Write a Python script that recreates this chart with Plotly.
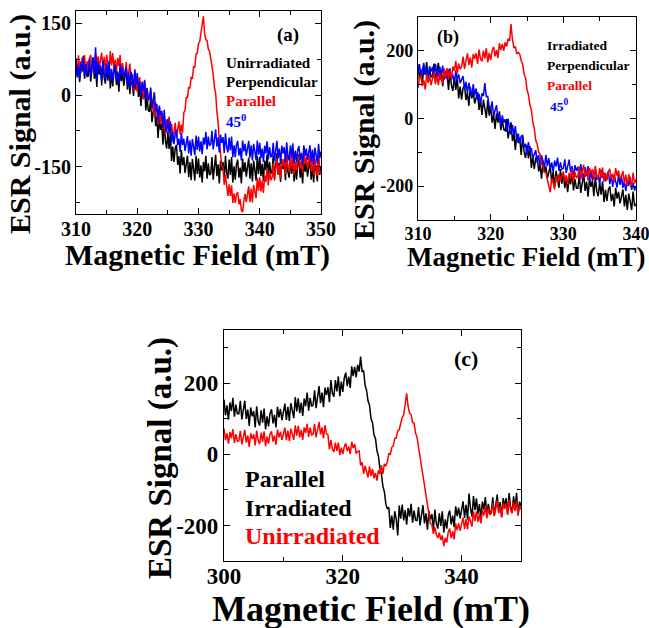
import numpy as np
import plotly.graph_objects as go

# ---------------- data ----------------
field_a = np.round(310 + 0.2 * np.arange(201), 2)   # (a) 310-350 mT
field_b = np.round(310 + 0.2 * np.arange(151), 2)   # (b) 310-340 mT
field_c = np.round(300 + 0.25 * np.arange(201), 2)  # (c) 300-350 mT

# (a) Unirradiated
unirr_perp_a = [77, 37, 63, 27, 70, 49, 82, 34, 64, 39,
                40, 75, 28, 55, 79, 34, 58, 17, 65, 43,
                60, 20, 73, 36, 24, 63, 30, 67, 14, 47,
                18, 49, 59, 21, 41, 7, 58, 29, 49, 19,
                38, 56, 11, 42, 2, 43, 21, -2, 49, 10,
                40, -4, 18, -23, 16, -8, 21, -32, -4, -32,
                -35, -5, -57, -35, -15, -65, -45, -90, -47, -73,
                -60, -104, -56, -96, -112, -77, -113, -80, -138, -108,
                -140, -111, -104, -146, -128, -164, -115, -147, -130, -163,
                -145, -127, -172, -140, -178, -134, -155, -179, -127, -165,
                -133, -173, -147, -183, -140, -160, -127, -175, -143, -167,
                -165, -130, -177, -150, -125, -170, -145, -185, -137, -158,
                -140, -180, -127, -163, -175, -135, -167, -130, -183, -149,
                -177, -145, -135, -173, -152, -185, -133, -161, -141, -171,
                -150, -131, -175, -143, -181, -137, -157, -179, -127, -165,
                -130, -170, -144, -180, -137, -157, -124, -172, -140, -164,
                -162, -127, -174, -147, -122, -167, -142, -182, -134, -155,
                -138, -178, -125, -161, -173, -133, -165, -128, -181, -147,
                -177, -145, -135, -173, -152, -185, -133, -161, -141, -171,
                -152, -133, -177, -145, -183, -139, -159, -181, -129, -167,
                -150]
unirr_par_a = [72, 41, 83, 56, 46, 79, 54, 84, 43, 71,
               50, 76, 84, 55, 71, 45, 87, 65, 81, 57,
               74, 89, 54, 80, 49, 84, 68, 51, 92, 62,
               88, 55, 74, 45, 78, 61, 84, 44, 67, 45,
               44, 69, 29, 48, 66, 27, 44, 9, 45, 26,
               7, 31, 37, 5, 20, -9, 29, 3, 15, -13,
               -1, 9, -31, -10, -46, -16, -37, -61, -26, -61,
               -37, -71, -53, -83, -51, -69, -45, -85, -60, -82,
               -78, -58, -89, -72, -55, -82, -62, -79, -37, -32,
               -4, -6, 16, 14, 38, 34, 60, 58, 86, 88,
               108, 112, 130, 145, 165, 128, 116, 114, 96, 92,
               78, 56, 44, 16, 4, -34, -56, -98, -120, -148,
               -150, -188, -167, -197, -211, -187, -211, -189, -226, -206,
               -226, -208, -203, -229, -218, -241, -245, -222, -207, -224,
               -208, -191, -224, -196, -225, -188, -202, -216, -173, -200,
               -172, -202, -179, -205, -168, -182, -154, -189, -160, -178,
               -173, -143, -179, -155, -133, -167, -145, -175, -135, -149,
               -133, -165, -123, -151, -161, -129, -155, -125, -167, -140,
               -158, -132, -124, -154, -138, -164, -122, -145, -129, -153,
               -138, -124, -160, -135, -167, -133, -151, -170, -131, -163,
               -160]
unirr_45_a = [73, 41, 61, 33, 67, 51, 77, 39, 65, 45,
              47, 75, 37, 59, 79, 43, 100, 31, 69, 53,
              62, 30, 72, 44, 34, 66, 40, 70, 28, 55,
              29, 55, 63, 33, 49, 23, 65, 42, 58, 34,
              44, 58, 22, 47, 15, 49, 32, 14, 54, 23,
              46, 11, 28, -3, 28, 9, 32, -9, 14, -8,
              -8, 16, -27, -9, 6, -34, -19, -55, -22, -42,
              -33, -69, -31, -64, -78, -50, -80, -55, -101, -78,
              -103, -79, -73, -105, -91, -119, -79, -105, -91, -117,
              -101, -86, -122, -95, -127, -92, -108, -126, -85, -115,
              -87, -118, -97, -124, -89, -104, -77, -114, -87, -106,
              -103, -75, -114, -92, -72, -108, -89, -120, -83, -100,
              -88, -121, -80, -109, -120, -89, -116, -87, -130, -105,
              -130, -104, -96, -127, -111, -137, -95, -118, -102, -127,
              -111, -96, -131, -105, -137, -102, -118, -136, -95, -125,
              -100, -132, -112, -140, -106, -122, -97, -135, -109, -129,
              -128, -100, -138, -116, -96, -132, -112, -144, -106, -122,
              -109, -141, -99, -127, -137, -105, -131, -101, -143, -116,
              -141, -115, -107, -137, -121, -147, -105, -128, -112, -136,
              -120, -105, -140, -114, -145, -110, -126, -143, -102, -132,
              -118]

# (b) Irradiated
irr_perp_b = [159, 115, 144, 104, 152, 129, 166, 113, 148, 122,
              124, 162, 109, 138, 164, 113, 140, 95, 147, 123,
              132, 84, 140, 97, 81, 122, 84, 122, 59, 94,
              56, 89, 98, 54, 75, 37, 92, 59, 79, 44,
              61, 77, 25, 56, 10, 55, 29, 1, 54, 8,
              34, -13, 13, -31, 14, -13, 21, -35, -4, -33,
              -36, -2, -59, -34, -12, -67, -44, -93, -45, -73,
              -58, -108, -54, -99, -117, -78, -118, -82, -146, -113,
              -149, -118, -111, -157, -138, -178, -125, -160, -142, -178,
              -159, -141, -191, -158, -202, -155, -179, -205, -150, -193,
              -161, -206, -178, -218, -172, -195, -158, -213, -179, -206,
              -206, -168, -220, -190, -163, -214, -187, -231, -178, -202,
              -183, -230, -173, -215, -230, -188, -225, -186, -247, -211,
              -244, -210, -201, -244, -223, -260, -205, -237, -217, -251,
              -229, -210, -260, -226, -270, -222, -246, -271, -216, -259,
              -252]
irr_45_b = [132, 160, 122, 144, 164, 128, 148, 116, 154, 138,
            152, 119, 161, 133, 122, 153, 127, 156, 114, 140,
            117, 141, 147, 115, 129, 101, 141, 116, 130, 104,
            114, 125, 86, 108, 74, 105, 85, 64, 101, 68,
            88, 54, 72, 42, 74, 66, 104, 64, 65, 35,
            27, 50, 7, 24, 39, -2, 13, -24, 9, -12,
            -3, -39, -1, -33, -47, -19, -49, -23, -69, -45,
            -73, -53, -50, -86, -75, -107, -70, -99, -88, -118,
            -106, -94, -131, -108, -141, -109, -127, -147, -108, -141,
            -117, -150, -130, -159, -125, -142, -116, -155, -129, -150,
            -148, -121, -161, -140, -122, -159, -141, -174, -138, -155,
            -143, -176, -135, -164, -176, -144, -170, -141, -184, -158,
            -183, -158, -151, -182, -167, -194, -152, -176, -161, -186,
            -171, -157, -194, -169, -202, -168, -186, -204, -165, -196,
            -172, -205, -186, -215, -181, -199, -173, -211, -190, -213,
            -200]
irr_par_b = [90, 119, 128, 95, 112, 85, 131, 105, 123, 98,
             119, 135, 101, 128, 98, 134, 119, 103, 145, 117,
             148, 119, 142, 116, 153, 140, 169, 133, 162, 145,
             152, 182, 146, 170, 192, 158, 180, 150, 190, 176,
             192, 161, 203, 176, 168, 200, 176, 207, 165, 193,
             172, 200, 211, 183, 202, 178, 222, 202, 220, 199,
             225, 212, 235, 228, 278, 232, 208, 212, 190, 195,
             190, 170, 160, 130, 120, 85, 70, 40, 25, -10,
             -30, -65, -75, -100, -105, -135, -140, -160, -160, -180,
             -195, -218, -178, -188, -210, -170, -190, -165, -185, -168,
             -157, -188, -168, -195, -161, -174, -149, -187, -159, -176,
             -170, -142, -180, -158, -137, -173, -152, -184, -146, -162,
             -150, -182, -140, -169, -179, -147, -175, -145, -187, -160,
             -183, -157, -149, -179, -163, -189, -147, -170, -154, -178,
             -171, -156, -192, -166, -200, -165, -181, -201, -160, -192,
             -180]

# (c) Parallel
par_irr_c = [154, 110, 138, 98, 146, 122, 159, 106, 140, 114,
             114, 151, 98, 126, 151, 100, 126, 80, 132, 107,
             122, 76, 135, 94, 81, 124, 89, 129, 70, 107,
             79, 115, 127, 87, 111, 76, 134, 104, 128, 96,
             121, 143, 97, 134, 94, 144, 124, 102, 161, 121,
             158, 116, 146, 108, 157, 136, 174, 123, 159, 135,
             139, 180, 130, 163, 192, 144, 174, 133, 188, 167,
             189, 147, 209, 172, 162, 209, 177, 220, 164, 205,
             176, 215, 230, 192, 219, 187, 248, 220, 246, 217,
             252, 233, 275, 232, 236, 195, 180, 150, 138, 100,
             90, 55, 45, 10, -5, -40, -55, -90, -105, -140,
             -154, -149, -207, -172, -212, -160, -182, -228, -144, -181,
             -141, -186, -157, -198, -151, -175, -139, -192, -158, -185,
             -186, -148, -200, -170, -143, -194, -166, -212, -159, -183,
             -168, -214, -155, -195, -209, -166, -201, -160, -220, -183,
             -209, -171, -158, -197, -172, -205, -146, -174, -150, -180,
             -154, -132, -179, -142, -183, -110, -153, -175, -117, -157,
             -124, -168, -140, -180, -133, -156, -120, -173, -139, -166,
             -161, -121, -172, -141, -113, -163, -134, -177, -123, -145,
             -123, -168, -109, -149, -162, -118, -153, -108, -171, -133,
             -145]
par_unirr_c = [73, 40, 59, 30, 63, 46, 71, 32, 57, 37,
               38, 66, 28, 50, 69, 33, 53, 21, 59, 43,
               57, 25, 67, 39, 29, 61, 35, 65, 23, 50,
               30, 57, 65, 36, 53, 27, 70, 48, 64, 41,
               59, 75, 40, 67, 37, 72, 57, 41, 82, 53,
               80, 48, 69, 41, 76, 60, 86, 49, 75, 55,
               57, 85, 48, 70, 91, 56, 76, 45, 82, 58,
               55, 14, 40, 15, 7, 33, 10, 33, -2, 19,
               1, 22, 31, 9, 22, 1, 35, 18, 29, 2,
               8, 10, -31, -22, -55, -32, -49, -65, -34, -61,
               -41, -67, -52, -74, -45, -55, -30, -55, -27, -33,
               -20, 2, 0, 20, 24, 45, 46, 66, 70, 92,
               104, 110, 145, 172, 134, 116, 112, 90, 88, 60,
               48, 20, -2, -40, -58, -95, -112, -150, -168, -195,
               -198, -224, -205, -226, -235, -220, -241, -228, -258, -235,
               -248, -219, -209, -236, -216, -239, -194, -213, -194, -215,
               -196, -178, -210, -182, -211, -174, -188, -203, -160, -188,
               -160, -190, -168, -194, -158, -172, -144, -180, -152, -170,
               -166, -137, -174, -151, -130, -166, -145, -177, -138, -154,
               -138, -170, -128, -156, -166, -134, -160, -130, -172, -145,
               -155]

xtick_a = [310, 320, 330, 340, 350]
xtick_b = [310, 320, 330, 340]
xtick_c = [300, 320, 340]
ytick_a = [150, 0, -150]
ytick_a_text = ["150", "0", "-150"]
ytick_bc = [200, 0, -200]
ytick_bc_text = ["200", "0", "-200"]

# ---------------- figure ----------------
W, H = 649, 628
FONT = "Liberation Serif"


def px(x):
    return x / W


def py(y):
    return 1 - y / H


fig = go.Figure()
LW = 1.5

fig.add_trace(go.Scatter(x=field_a, y=unirr_perp_a, mode="lines",
                         line=dict(color="black", width=LW), xaxis="x", yaxis="y"))
fig.add_trace(go.Scatter(x=field_a, y=unirr_par_a, mode="lines",
                         line=dict(color="#ff0000", width=LW), xaxis="x", yaxis="y"))
fig.add_trace(go.Scatter(x=field_a, y=unirr_45_a, mode="lines",
                         line=dict(color="#0000ff", width=LW), xaxis="x", yaxis="y"))

fig.add_trace(go.Scatter(x=field_b, y=irr_perp_b, mode="lines",
                         line=dict(color="black", width=LW), xaxis="x2", yaxis="y2"))
fig.add_trace(go.Scatter(x=field_b, y=irr_45_b, mode="lines",
                         line=dict(color="#0000ff", width=LW), xaxis="x2", yaxis="y2"))
fig.add_trace(go.Scatter(x=field_b, y=irr_par_b, mode="lines",
                         line=dict(color="#ff0000", width=LW), xaxis="x2", yaxis="y2"))

fig.add_trace(go.Scatter(x=field_c, y=par_irr_c, mode="lines",
                         line=dict(color="black", width=LW), xaxis="x3", yaxis="y3"))
fig.add_trace(go.Scatter(x=field_c, y=par_unirr_c, mode="lines",
                         line=dict(color="#ff0000", width=LW), xaxis="x3", yaxis="y3"))


def xax(domain, rng, tv, minor, anchor, size, standoff):
    return dict(domain=domain, range=rng, tickvals=tv, ticktext=[str(v) for v in tv],
                anchor=anchor, automargin=False, ticklabeloverflow="allow",
                showline=True, linecolor="black", linewidth=1.2, mirror="ticks",
                ticks="inside", ticklen=6, tickcolor="black", showgrid=False, zeroline=False,
                minor=dict(dtick=minor, tick0=rng[0], ticks="inside", ticklen=4, tickcolor="black"),
                tickfont=dict(family=FONT, size=size, color="black", weight="bold"),
                ticklabelstandoff=standoff)


def yax(domain, rng, tv, tt, minor, anchor, size):
    return dict(domain=domain, range=rng, tickvals=tv, ticktext=tt, anchor=anchor,
                automargin=False, ticklabeloverflow="allow",
                showline=True, linecolor="black", linewidth=1.2, mirror="ticks",
                ticks="inside", ticklen=6, tickcolor="black", showgrid=False, zeroline=False,
                minor=dict(dtick=minor, tick0=0, ticks="inside", ticklen=4, tickcolor="black"),
                tickfont=dict(family=FONT, size=size, color="black", weight="bold"))


fig.update_layout(
    width=W, height=H, margin=dict(l=0, r=0, t=0, b=0, autoexpand=False),
    paper_bgcolor="white", plot_bgcolor="white", showlegend=False,
    font=dict(family=FONT),
    xaxis=xax([px(76), px(321)], [310, 350], xtick_a, 5, "y", 20, -3),
    yaxis=yax([py(214), py(11)], [-249, 176], ytick_a, ytick_a_text, 75, "x", 20),
    xaxis2=xax([px(418), px(636)], [310, 340], xtick_b, 5, "y2", 18, -3),
    yaxis2=yax([py(220), py(16.7)], [-300, 300], ytick_bc, ytick_bc_text, 100, "x2", 18),
    xaxis3=xax([px(224), px(521)], [300, 350], xtick_c, 10, "y3", 23, -6),
    yaxis3=yax([py(561), py(330)], [-300, 350], ytick_bc, ytick_bc_text, 100, "x3", 23),
)


def ann(text, x, y, size, color="black", xanchor="center", angle=0):
    fig.add_annotation(text=text, x=px(x), y=py(y), xref="paper", yref="paper",
                       xanchor=xanchor, yanchor="middle", showarrow=False, textangle=angle,
                       font=dict(family=FONT, size=size, color=color, weight="bold"))


# axis titles
ann("ESR Signal (a.u.)", 20, 124, 30, angle=-90)
ann("Magnetic Field (mT)", 197, 255, 30)
ann("ESR Signal (a.u.)", 364, 130, 30, angle=-90)
ann("Magnetic Field (mT)", 526, 257, 27)
ann("ESR Signal (a.u.)", 161, 458, 33, angle=-90)
ann("Magnetic Field (mT)", 371, 609, 36)

# panel labels & legends
ann("(a)", 287.5, 35, 19)
ann("Unirradiated", 224, 63, 15, xanchor="left")
ann("Perpendicular", 224, 82, 15, xanchor="left")
ann("Parallel", 224, 101, 15, "#ff0000", xanchor="left")
ann("45<sup>0</sup>", 224, 121, 15, "#0000ff", xanchor="left")

ann("(b)", 447.5, 38, 18)
ann("Irradiated", 545, 46, 13.5, xanchor="left")
ann("Perpendicular", 545, 66, 13.5, xanchor="left")
ann("Parallel", 545, 85, 13.5, "#ff0000", xanchor="left")
ann("45<sup>0</sup>", 548, 106, 13.5, "#0000ff", xanchor="left")

ann("(c)", 465.5, 358, 22)
ann("Parallel", 243, 479, 24, xanchor="left")
ann("Irradiated", 243, 508, 24, xanchor="left")
ann("Unirradiated", 243, 536, 24, "#ff0000", xanchor="left")

fig.write_html("out.html", config={"displayModeBar": False},
               post_script="document.body.style.margin='0px';"
                           "document.body.style.overflow='hidden';")
